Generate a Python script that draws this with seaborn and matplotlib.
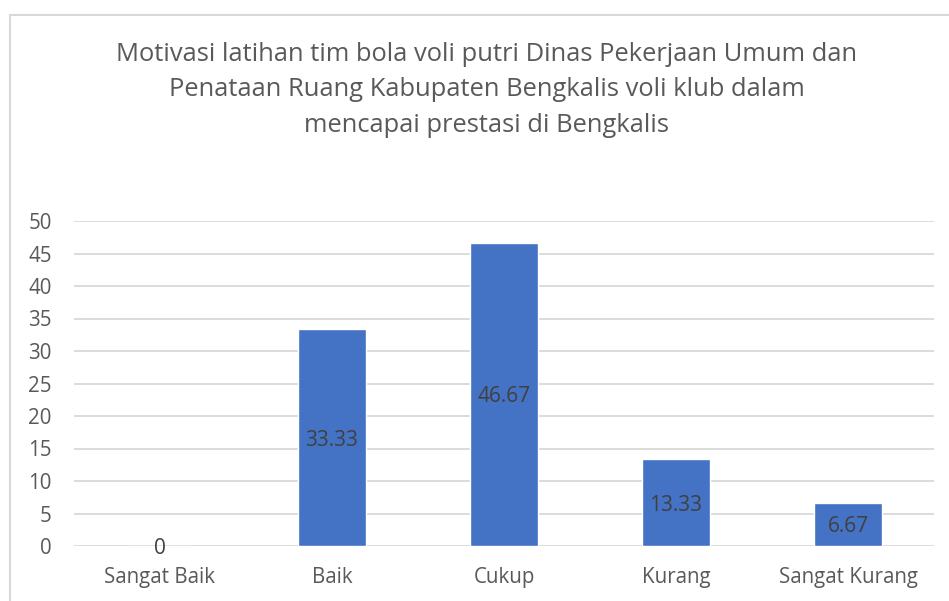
import matplotlib
matplotlib.use("Agg")
import matplotlib.pyplot as plt
import seaborn as sns
import pandas as pd
from matplotlib.lines import Line2D

categories = ["Sangat Baik", "Baik", "Cukup", "Kurang", "Sangat Kurang"]
values = [0, 33.33, 46.67, 13.33, 6.67]
labels = ["0", "33.33", "46.67", "13.33", "6.67"]
yticks = [0, 5, 10, 15, 20, 25, 30, 35, 40, 45, 50]
title = ("Motivasi latihan tim bola voli putri Dinas Pekerjaan Umum dan\n"
         "Penataan Ruang Kabupaten Bengkalis voli klub dalam\n"
         "mencapai prestasi di Bengkalis")

sns.set_style("white")
plt.rcParams['font.family'] = ['Open Sans', 'DejaVu Sans']

df = pd.DataFrame({"cat": categories, "val": values})

W, H = 949, 601
fig = plt.figure(figsize=(W / 100, H / 100), dpi=100)
ax = fig.add_axes([74 / W, 1 - 546 / H, (934 - 74) / W, (546 - 221) / H])

sns.barplot(data=df, x="cat", y="val", color="#4472C4", saturation=1,
            width=0.4, ax=ax, zorder=3)

ax.set_ylim(0, 50)
ax.set_xlim(-0.5, len(categories) - 0.5)
ax.set_yticks(yticks)
ax.set_yticklabels([str(t) for t in yticks])
for t in yticks:
    ax.axhline(t, color="#D9D9D9", lw=1.3, zorder=1)
for s in ax.spines.values():
    s.set_visible(False)
ax.tick_params(axis="both", length=0, labelsize=14.8, labelcolor="#595959")
ax.tick_params(axis="x", pad=15)
ax.tick_params(axis="y", pad=16)
ax.set_xlabel("")
ax.set_ylabel("")

for i, (v, lab) in enumerate(zip(values, labels)):
    ax.text(i, v / 2 - 0.4, lab, ha="center", va="center", fontsize=15,
            color="#404040", zorder=4)

fig.text(487 / W, 1 - 90 / H, title, ha="center", va="center",
         fontsize=18.4, color="#595959", linespacing=1.57)

# chart border (cropped)
fig.add_artist(Line2D([10 / W, 10 / W], [0, 1 - 15 / H], color="#D9D9D9",
                      lw=1.5, transform=fig.transFigure))
fig.add_artist(Line2D([10 / W, 1], [1 - 15 / H, 1 - 15 / H], color="#D9D9D9",
                      lw=1.5, transform=fig.transFigure))

fig.savefig("out.png", dpi=100, facecolor="white")
